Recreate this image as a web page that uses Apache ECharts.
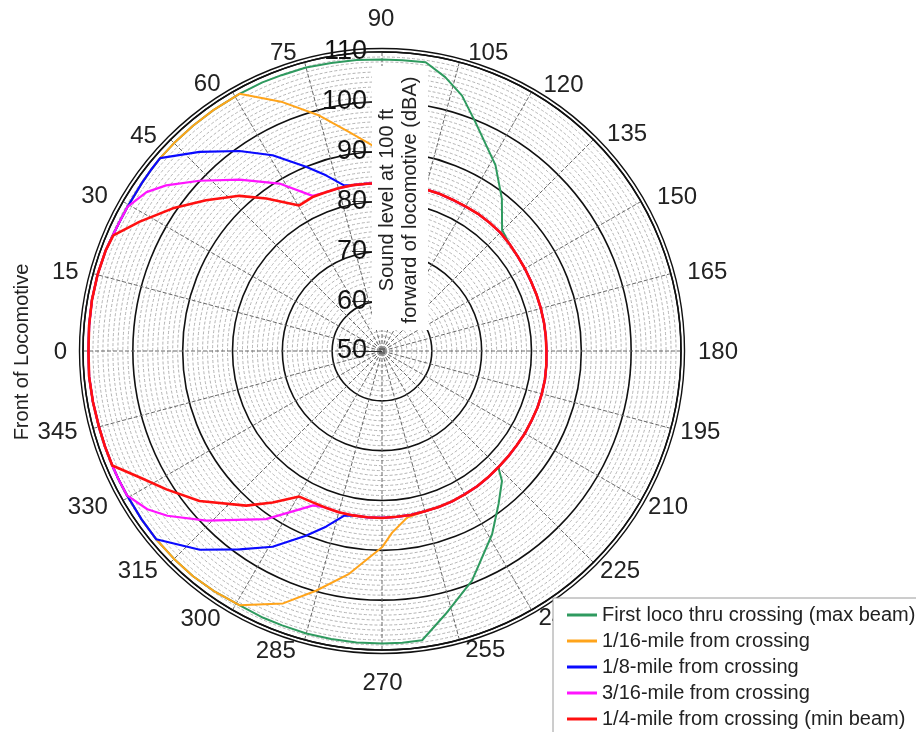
<!DOCTYPE html>
<html>
<head>
<meta charset="utf-8">
<script src="https://cdn.jsdelivr.net/npm/echarts@6/dist/echarts.min.js"></script>
<style>
  html, body { margin: 0; padding: 0; background: #fff; }
  #chart { width: 916px; height: 732px; }
</style>
</head>
<body>
<div id="chart"></div>
<script>
// ---- Data (angle in degrees, level in dBA) ----
const seriesNames = [
  'First loco thru crossing (max beam)',
  '1/16-mile from crossing',
  '1/8-mile from crossing',
  '3/16-mile from crossing',
  '1/4-mile from crossing (min beam)'
];
const angleTicks = [0, 15, 30, 45, 60, 75, 90, 105, 120, 135, 150, 165, 180, 195, 210, 225, 240, 255, 270, 285, 300, 315, 330, 345];
const radiusTicks = [50, 60, 70, 80, 90, 100, 110];

const greenAngle = [0, 5, 10, 15, 20, 23, 26, 29.5, 35, 38, 41, 45, 50, 55, 61,
  66, 70, 75, 80, 85, 90, 94, 98.6,
  103, 107.4, 112.2, 121.4, 128.2, 134.8,
  140, 145, 150, 155, 160, 165, 170, 175, 180, 185, 190, 195, 200, 205, 210, 215, 220,
  225, 227.3, 232.7, 239, 248.6, 256.4, 262.1,
  266, 270, 275, 280, 285, 290, 294, 299.3,
  305, 310, 315, 320.2, 325, 330.5, 334, 337, 341, 345, 350, 355, 360];
const greenDb = [108.9, 109.0, 109.1, 109.1, 109.0, 108.8, 108.7, 108.7, 108.8, 108.9, 109.0, 109.0, 109.0, 109.0, 109.0,
  109.0, 108.9, 108.9, 108.7, 108.6, 108.5, 108.5, 108.6,
  106.4, 103.7, 99.6, 93.7, 88.9, 84.2,
  83.4, 83.2, 83.1, 83.0, 83.0, 83.0, 83.0, 83.0, 83.0, 83.1, 83.2, 83.2, 83.2, 83.1, 83.1, 83.0, 83.0,
  83.0, 85.5, 88.6, 92.9, 99.5, 104.3, 108.6,
  108.7, 108.7, 108.7, 108.7, 108.7, 108.6, 108.6, 108.5,
  108.8, 109.0, 109.0, 109.0, 108.9, 108.8, 108.8, 108.8, 108.8, 108.8, 108.9, 109.0, 108.9];

const orangeAngle = [0, 5, 10, 15, 20, 23, 26, 29.5, 35, 38, 41, 45, 50, 55, 61,
  68.2, 75.1, 81.5, 87.3, 90, 93.2, 98.5,
  105, 110, 115, 120, 125, 130, 135, 140, 145, 150, 155, 160, 165, 170, 175, 180, 185, 190, 195, 200, 205, 210, 215, 220, 225, 230, 235, 240, 245, 250, 255,
  261.4, 266.8, 270, 278.4, 285.4, 291.4, 299.3,
  305, 310, 315, 320.2, 325, 330.5, 334, 337, 341, 345, 350, 355, 360];
const orangeDb = [108.9, 109.0, 109.1, 109.1, 109.0, 108.8, 108.7, 108.7, 108.8, 108.9, 109.0, 109.0, 109.0, 109.0, 109.0,
  103.8, 98.9, 94.4, 91.3, 89.6, 86.5, 83.7,
  83.6, 83.6, 83.5, 83.5, 83.6, 83.6, 83.6, 83.4, 83.2, 83.1, 83.0, 83.0, 83.0, 83.0, 83.0, 83.0, 83.1, 83.2, 83.2, 83.2, 83.1, 83.1, 83.0, 83.0, 83.0, 83.1, 83.2, 83.2, 83.3, 83.3, 83.3,
  83.8, 86.5, 89.4, 95.2, 99.9, 104.4, 108.5,
  108.8, 109.0, 109.0, 109.0, 108.9, 108.8, 108.8, 108.8, 108.8, 108.8, 108.9, 109.0, 108.9];

const blueAngle = [0, 5, 10, 15, 20, 23, 26, 29.5, 35, 38, 41,
  47.5, 54.5, 60.8, 67.6, 72.3, 77.1,
  80, 85, 90, 95, 100,
  105, 110, 115, 120, 125, 130, 135, 140, 145, 150, 155, 160, 165, 170, 175, 180, 185, 190, 195, 200, 205, 210, 215, 220, 225, 230, 235, 240, 245, 250, 255, 260, 265, 270, 275, 280,
  282.9, 287.7, 292.4, 299.2, 305.7, 312.5,
  320.2, 325, 330.5, 334, 337, 341, 345, 350, 355, 360];
const blueDb = [108.9, 109.0, 109.1, 109.1, 109.0, 108.8, 108.7, 108.7, 108.8, 108.9, 109.0,
  104.2, 99.3, 95.0, 90.0, 87.0, 84.1,
  83.8, 83.7, 83.7, 83.7, 83.6,
  83.6, 83.6, 83.5, 83.5, 83.6, 83.6, 83.6, 83.4, 83.2, 83.1, 83.0, 83.0, 83.0, 83.0, 83.0, 83.0, 83.1, 83.2, 83.2, 83.2, 83.1, 83.1, 83.0, 83.0, 83.0, 83.1, 83.2, 83.2, 83.3, 83.3, 83.3, 83.4, 83.4, 83.5, 83.5, 83.5,
  83.9, 87.0, 90.1, 95.0, 99.0, 104.1,
  109.0, 108.9, 108.8, 108.8, 108.8, 108.8, 108.8, 108.9, 109.0, 108.9];

const magentaAngle = [0, 5, 10, 15, 20, 23, 26, 29.5,
  34, 37.5, 43, 50.3, 58.5, 65.9,
  70, 75, 80, 85, 90, 95, 100,
  105, 110, 115, 120, 125, 130, 135, 140, 145, 150, 155, 160, 165, 170, 175, 180, 185, 190, 195, 200, 205, 210, 215, 220, 225, 230, 235, 240, 245, 250, 255, 260, 265, 270, 275, 280, 285, 290,
  294, 304.6, 316, 322.5, 326,
  330.5, 334, 337, 341, 345, 350, 355, 360];
const magentaDb = [108.9, 109.0, 109.1, 109.1, 109.0, 108.8, 108.7, 108.7,
  107.0, 104.6, 100.1, 94.7, 89.4, 84.1,
  83.8, 83.8, 83.8, 83.7, 83.7, 83.7, 83.6,
  83.6, 83.6, 83.5, 83.5, 83.6, 83.6, 83.6, 83.4, 83.2, 83.1, 83.0, 83.0, 83.0, 83.0, 83.0, 83.0, 83.1, 83.2, 83.2, 83.2, 83.1, 83.1, 83.0, 83.0, 83.0, 83.1, 83.2, 83.2, 83.3, 83.3, 83.3, 83.4, 83.4, 83.5, 83.5, 83.5, 83.5, 83.4,
  83.9, 91.0, 99.0, 104.3, 106.8,
  108.8, 108.8, 108.8, 108.8, 108.8, 108.9, 109.0, 108.9];

const redAngle = [0, 5, 10, 15, 20,
  23.3, 28.1, 34.3, 40.6, 47.4, 52.8, 60.4,
  66, 70, 75, 80, 85, 90, 95, 100,
  105, 110, 115, 120, 125, 130, 135, 140, 145, 150, 155, 160, 165, 170, 175, 180, 185, 190, 195, 200, 205, 210, 215, 220, 225, 230, 235, 240, 245, 250, 255, 260, 265, 270, 275, 280, 285, 290, 294.8,
  299.6, 305.8, 311.3, 320.6, 327.3, 332.4,
  337, 341, 345, 350, 355, 360];
const redDb = [108.9, 109.0, 109.1, 109.1, 109.0,
  108.7, 105.1, 100.8, 96.5, 92.3, 88.4, 83.6,
  83.9, 83.8, 83.8, 83.8, 83.7, 83.7, 83.7, 83.6,
  83.6, 83.6, 83.5, 83.5, 83.6, 83.6, 83.6, 83.4, 83.2, 83.1, 83.0, 83.0, 83.0, 83.0, 83.0, 83.0, 83.1, 83.2, 83.2, 83.2, 83.1, 83.1, 83.0, 83.0, 83.0, 83.1, 83.2, 83.2, 83.3, 83.3, 83.3, 83.4, 83.4, 83.5, 83.5, 83.5, 83.5, 83.4, 83.4,
  83.6, 87.5, 91.3, 97.4, 101.4, 104.8,
  108.8, 108.8, 108.8, 108.9, 109.0, 108.9];

const seriesAngles = [greenAngle, orangeAngle, blueAngle, magentaAngle, redAngle];
const seriesDb = [greenDb, orangeDb, blueDb, magentaDb, redDb];
const seriesColors = ['#2f9a5f', '#ffa41b', '#0a0aff', '#ff14ff', '#ff1010'];
const seriesWidths = [2, 2, 2.2, 2.2, 2.6];

// ---- Styling ----
const FONT = 'Liberation Sans, Arial, sans-serif';
const CENTER = [382, 351];
const R = 299;
// per-label padding [top, right, bottom, left] to place angle labels like the original
const anglePad = {
  0: [3, 32, 0, 0], 15: [0, 30, 11, 0], 30: [0, 29, 1, 0], 45: [0, 25, 3, 0],
  60: [0, 20, 10, 0], 75: [0, 51, 12, 0], 90: [0, 2, 37, 0], 105: [0, 0, 12, 66],
  120: [0, 0, 9, 20], 135: [0, 0, 5, 25], 150: [0, 0, 0, 30], 165: [0, 0, 11, 32],
  180: [2, 0, 0, 33], 195: [17, 0, 0, 25], 210: [3, 0, 0, 21], 225: [8, 0, 0, 18],
  240: [10, 0, 0, 15], 255: [14, 0, 0, 60], 270: [37, 0, 0, 1], 285: [15, 66, 0, 0],
  300: [11, 20, 0, 0], 315: [8, 24, 0, 0], 330: [3, 29, 0, 0], 345: [17, 31, 0, 0]
};
const angleRich = {};
angleTicks.forEach(function (t) {
  angleRich['a' + t] = { fontSize: 24, fontFamily: FONT, color: '#222', padding: anglePad[t] };
});

const chart = echarts.init(document.getElementById('chart'), null, { renderer: 'canvas' });

const option = {
  animation: false,
  backgroundColor: '#ffffff',
  textStyle: { fontFamily: FONT },
  polar: [
    { center: CENTER, radius: R },
    { center: CENTER, radius: R },
    { center: CENTER, radius: R + 3.5 }
  ],
  angleAxis: [
    {
      polarIndex: 0,
      type: 'value',
      min: angleTicks[0],
      max: 360,
      interval: 15,
      startAngle: 180,
      clockwise: true,
      axisLine: { show: true, lineStyle: { color: '#111', width: 1.4 } },
      axisTick: { show: false },
      axisLabel: {
        show: true, fontSize: 24, color: '#222', margin: -16, fontFamily: FONT,
        formatter: function (v) {
          return angleTicks.indexOf(v) >= 0 ? '{a' + v + '|' + v + '}' : '';
        },
        rich: angleRich
      },
      splitLine: { show: true, lineStyle: { color: '#666', width: 1, type: [4, 2] } }
    },
    {
      polarIndex: 1, type: 'value', min: 0, max: 360, startAngle: 90, show: false
    },
    {
      polarIndex: 2, type: 'value', min: 0, max: 360, startAngle: 180,
      axisLine: { show: true, lineStyle: { color: '#111', width: 1.4 } },
      axisTick: { show: false }, axisLabel: { show: false }, splitLine: { show: false }
    }
  ],
  radiusAxis: [
    {
      polarIndex: 0,
      type: 'value',
      min: radiusTicks[0],
      max: radiusTicks[radiusTicks.length - 1],
      interval: 10,
      axisLine: { show: false },
      axisTick: { show: false },
      axisLabel: { show: false },
      splitLine: { show: true, lineStyle: { color: '#111', width: 1.6 } },
      minorTick: { show: false, splitNumber: 10 },
      minorSplitLine: { show: true, lineStyle: { color: '#b4b4b4', width: 1, type: [3, 2] } }
    },
    {
      polarIndex: 1,
      type: 'value',
      min: radiusTicks[0],
      max: radiusTicks[radiusTicks.length - 1],
      interval: 10,
      z: 5,
      axisLine: { show: false },
      axisTick: { show: true, length: 30, lineStyle: { color: '#333', width: 1 } },
      axisLabel: { show: true, fontSize: 27, color: '#111', margin: 15, fontFamily: FONT },
      splitLine: { show: false }
    },
    {
      polarIndex: 2, type: 'value', min: 0, max: 1, show: false
    }
  ],
  legend: {
    show: true,
    orient: 'vertical',
    left: 553,
    top: 598,
    height: 200,
    padding: [7, 10, 10, 14],
    itemGap: 6,
    itemWidth: 30,
    itemHeight: 3,
    icon: 'rect',
    selectedMode: false,
    backgroundColor: '#ffffff',
    borderColor: '#9a9a9a',
    borderWidth: 1,
    textStyle: { fontSize: 20, color: '#222', fontFamily: FONT },
    data: seriesNames
  },
  graphic: {
    elements: [
      {
        type: 'rect', z: 100, silent: true,
        shape: { x: 372, y: 66, width: 56, height: 264 },
        style: { fill: '#ffffff' }
      },
      {
        type: 'text', z: 101, silent: true,
        x: 399, y: 200, rotation: Math.PI / 2,
        style: {
          text: 'Sound level at 100 ft\nforward of locomotive (dBA)',
          font: '20px ' + FONT, fill: '#222', align: 'center', verticalAlign: 'middle', lineHeight: 23
        }
      },
      {
        type: 'text', z: 101, silent: true,
        x: 22, y: 352, rotation: Math.PI / 2,
        style: {
          text: 'Front of Locomotive',
          font: '20px ' + FONT, fill: '#222', align: 'center', verticalAlign: 'middle'
        }
      }
    ]
  },
  series: seriesNames.map(function (name, k) {
    return {
      name: name,
      type: 'line',
      coordinateSystem: 'polar',
      polarIndex: 0,
      showSymbol: false,
      symbol: 'none',
      clip: false,
      z: 3 + k,
      color: seriesColors[k],
      lineStyle: { color: seriesColors[k], width: seriesWidths[k] },
      data: seriesAngles[k].map(function (a, i) { return [seriesDb[k][i], a]; })
    };
  })
};

chart.setOption(option);
</script>
</body>
</html>
